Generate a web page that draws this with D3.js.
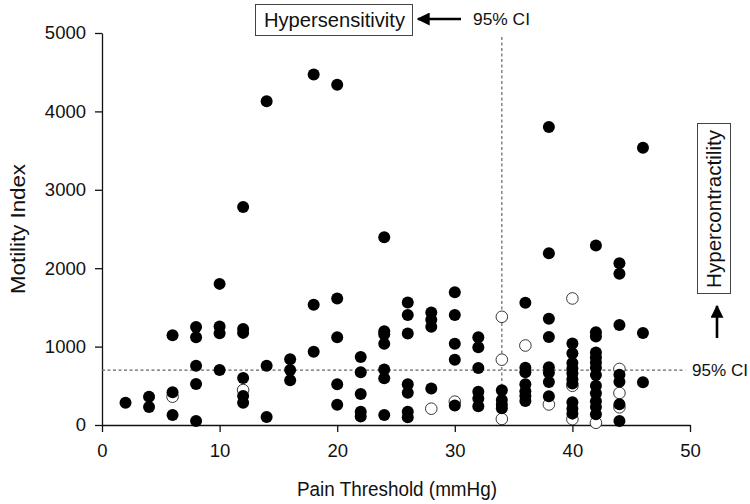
<!DOCTYPE html>
<html>
<head>
<meta charset="utf-8">
<script src="https://cdn.jsdelivr.net/npm/d3@7"></script>
<style>
  body { margin: 0; background: #fff; }
  svg { display: block; font-family: "Liberation Sans", Arial, sans-serif; }
</style>
</head>
<body>
<svg id="chart" width="750" height="504"></svg>
<script>
// Filled circles: [pain threshold (mmHg), motility index]
const filledPoints = [
  [2, 285],
  [4, 361], [4, 230],
  [6, 1145], [6, 417], [6, 128],
  [8, 1250], [8, 1120], [8, 757], [8, 523], [8, 51],
  [10, 1800], [10, 1255], [10, 1170], [10, 702],
  [12, 2780], [12, 1225], [12, 1175], [12, 600], [12, 370], [12, 285],
  [14, 4130], [14, 757], [14, 102],
  [16, 838], [16, 702], [16, 570],
  [18, 4470], [18, 1535], [18, 935],
  [20, 4340], [20, 1615], [20, 1120], [20, 519], [20, 259],
  [22, 868], [22, 672], [22, 395], [22, 168], [22, 107],
  [24, 2394], [24, 1195], [24, 1157], [24, 1037], [24, 708], [24, 596], [24, 128],
  [26, 1562], [26, 1403], [26, 1168], [26, 521], [26, 412], [26, 168], [26, 98],
  [28, 1435], [28, 1341], [28, 1254], [28, 466],
  [30, 1693], [30, 1403], [30, 1037], [30, 833], [30, 250],
  [32, 1118], [32, 993], [32, 727], [32, 425], [32, 338], [32, 240],
  [34, 442], [34, 320], [34, 260], [34, 215],
  [36, 1560], [36, 731], [36, 674], [36, 519], [36, 430], [36, 370], [36, 306],
  [38, 3800], [38, 2190], [38, 1356], [38, 1122], [38, 738], [38, 665], [38, 549], [38, 366],
  [40, 1040], [40, 915], [40, 790], [40, 720], [40, 659], [40, 583], [40, 530], [40, 289], [40, 208], [40, 145],
  [42, 2290], [42, 1182], [42, 1128], [42, 925], [42, 860], [42, 797], [42, 731], [42, 638], [42, 500], [42, 404], [42, 304], [42, 228], [42, 138],
  [44, 2062], [44, 1928], [44, 1276], [44, 640], [44, 553], [44, 265], [44, 50],
  [46, 3537], [46, 1172], [46, 545]
];
// Open circles
const openPoints = [
  [6, 361], [12, 446], [28, 208], [30, 298],
  [34, 1380], [34, 833], [34, 77],
  [36, 1014], [38, 262],
  [40, 1614], [40, 500], [40, 75],
  [42, 28],
  [44, 715], [44, 408], [44, 226]
];
const xTicks = [0, 10, 20, 30, 40, 50];
const yTicks = [0, 1000, 2000, 3000, 4000, 5000];
const ciMotility = 700;   // 95% CI of motility index
const ciThreshold = 34;   // 95% CI of pain threshold

const svg = d3.select("#chart");
const x = d3.scaleLinear().domain([0, 50]).range([102, 690]);
const y = d3.scaleLinear().domain([0, 5000]).range([425, 33]);

// Axes
const xAxis = d3.axisBottom(x).tickValues(xTicks).tickFormat(d3.format("d"))
  .tickSize(7).tickPadding(12).tickSizeOuter(0);
const yAxis = d3.axisLeft(y).tickValues(yTicks).tickFormat(d3.format("d"))
  .tickSize(7).tickPadding(9).tickSizeOuter(0);

const gx = svg.append("g").attr("transform", `translate(0,${y(0)})`).call(xAxis);
const gy = svg.append("g").attr("transform", `translate(${x(0)},0)`).call(yAxis);
[gx, gy].forEach(g => {
  g.selectAll("text").attr("font-size", 18.5).attr("fill", "#111").attr("font-family", "Liberation Sans, Arial, sans-serif");
  g.select(".domain").attr("stroke", "#111").attr("stroke-width", 1.3);
  g.selectAll(".tick line").attr("stroke", "#111").attr("stroke-width", 1.3);
});

// Dashed CI lines
svg.append("line")
  .attr("x1", x(0)).attr("x2", x(49.6))
  .attr("y1", y(ciMotility)).attr("y2", y(ciMotility))
  .attr("stroke", "#666").attr("stroke-width", 1.2).attr("stroke-dasharray", "3,2.5");
svg.append("line")
  .attr("x1", x(ciThreshold)).attr("x2", x(ciThreshold))
  .attr("y1", y(4950)).attr("y2", y(0))
  .attr("stroke", "#666").attr("stroke-width", 1.2).attr("stroke-dasharray", "3,2.5");

// Points
svg.append("g").selectAll("circle").data(openPoints).join("circle")
  .attr("cx", d => x(d[0])).attr("cy", d => y(d[1])).attr("r", 5.8)
  .attr("fill", "#fff").attr("stroke", "#222").attr("stroke-width", 0.9);
svg.append("g").selectAll("circle").data(filledPoints).join("circle")
  .attr("cx", d => x(d[0])).attr("cy", d => y(d[1])).attr("r", 6)
  .attr("fill", "#000");

// Axis titles
svg.append("text").attr("x", 397).attr("y", 496).attr("text-anchor", "middle")
  .attr("font-size", 20.5).attr("textLength", 200).attr("lengthAdjust", "spacingAndGlyphs")
  .attr("fill", "#111").text("Pain Threshold (mmHg)");
svg.append("text").attr("transform", "translate(25,229) rotate(-90)").attr("text-anchor", "middle")
  .attr("font-size", 20.5).attr("textLength", 130).attr("lengthAdjust", "spacingAndGlyphs")
  .attr("fill", "#111").text("Motility Index");

// Arrow marker
const defs = svg.append("defs");
defs.append("marker").attr("id", "arrow").attr("viewBox", "0 0 10 10")
  .attr("refX", 9).attr("refY", 5).attr("markerWidth", 5).attr("markerHeight", 5)
  .attr("markerUnits", "strokeWidth").attr("orient", "auto")
  .append("path").attr("d", "M0,0 L10,5 L0,10 Z").attr("fill", "#000");

// Hypersensitivity box
svg.append("rect").attr("x", 255.5).attr("y", 4.5).attr("width", 157).attr("height", 31)
  .attr("fill", "#fff").attr("stroke", "#444").attr("stroke-width", 1);
svg.append("text").attr("x", 334.5).attr("y", 27).attr("text-anchor", "middle")
  .attr("font-size", 19.5).attr("textLength", 141).attr("lengthAdjust", "spacingAndGlyphs")
  .attr("fill", "#111").text("Hypersensitivity");
svg.append("line").attr("x1", 461).attr("x2", 418).attr("y1", 19).attr("y2", 19)
  .attr("stroke", "#000").attr("stroke-width", 2.6).attr("marker-end", "url(#arrow)");
svg.append("text").attr("x", 473).attr("y", 25)
  .attr("font-size", 16).attr("textLength", 57).attr("lengthAdjust", "spacingAndGlyphs")
  .attr("fill", "#111").text("95% CI");

// Hypercontractility box
svg.append("rect").attr("x", 697.5).attr("y", 123.5).attr("width", 33).attr("height", 170)
  .attr("fill", "#fff").attr("stroke", "#444").attr("stroke-width", 1);
svg.append("text").attr("transform", "translate(721,209) rotate(-90)").attr("text-anchor", "middle")
  .attr("font-size", 19.5).attr("textLength", 158).attr("lengthAdjust", "spacingAndGlyphs")
  .attr("fill", "#111").text("Hypercontractility");
svg.append("line").attr("x1", 717).attr("x2", 717).attr("y1", 338).attr("y2", 306)
  .attr("stroke", "#000").attr("stroke-width", 2.6).attr("marker-end", "url(#arrow)");
svg.append("text").attr("x", 692).attr("y", y(ciMotility) + 6)
  .attr("font-size", 16.5).attr("textLength", 56).attr("lengthAdjust", "spacingAndGlyphs")
  .attr("fill", "#111").text("95% CI");
</script>
</body>
</html>
